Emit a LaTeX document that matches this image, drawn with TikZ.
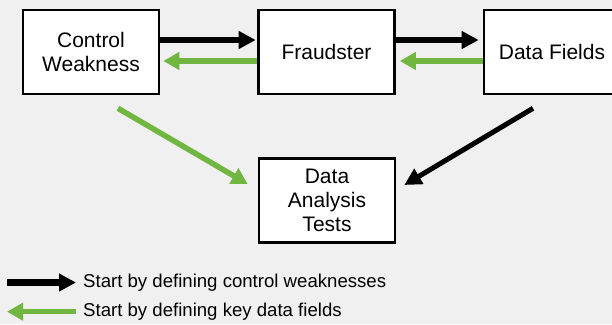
\documentclass[tikz,border=0pt]{standalone}
\usepackage{fontspec}
\setmainfont{Liberation Sans}
\usetikzlibrary{arrows.meta}
\definecolor{bgray}{RGB}{240,240,240}
\definecolor{leafgreen}{RGB}{112,182,64}
\tikzset{
  box/.style={draw=black, fill=white, line width=2.6bp, minimum width=136bp,
    minimum height=84bp, inner sep=0pt, align=center,
    font=\fontsize{21bp}{24bp}\selectfont},
  blackarrow/.style={draw=black, line width=6.5bp,
    -{Triangle[length=17bp,width=17bp]}},
  greenarrow/.style={draw=leafgreen, line width=5.5bp,
    -{Triangle[length=16bp,width=17bp]}},
  legendtext/.style={anchor=west, inner sep=0pt,
    font=\fontsize{18.6bp}{22bp}\selectfont}
}
\begin{document}
\begin{tikzpicture}[x=1bp, y=-1bp]
  % canvas
  \fill[bgray] (0,0) rectangle (612,324);
  \useasboundingbox (0,0) rectangle (612,324);
  \begin{scope}
    \clip (0,0) rectangle (612,324);
    % boxes
    \node[box] (ctrl)  at (91,52)    {Control\\Weakness};
    \node[box] (fraud) at (326.5,52) {Fraudster};
    \node[box] (fields) at (552,52)  {Data Fields};
    \node[box] (tests) at (327,200.5) {Data\\Analysis\\Tests};
  \end{scope}
  % top row: black forward, green backward
  \draw[blackarrow] ([yshift=12bp]ctrl.east) -- ([yshift=12bp,xshift=-1.5bp]fraud.west);
  \draw[greenarrow] ([yshift=-9bp]fraud.west) -- ([yshift=-9bp,xshift=3bp]ctrl.east);
  \draw[blackarrow] ([yshift=12bp]fraud.east) -- ([yshift=12bp,xshift=-4bp]fields.west);
  \draw[greenarrow] ([yshift=-9bp]fields.west) -- ([yshift=-9bp,xshift=4bp]fraud.east);
  % diagonals into the test box
  \draw[greenarrow] ([xshift=27bp,yshift=-13bp]ctrl.south)
    -- ([xshift=-10bp,yshift=16.5bp]tests.west);
  \draw[blackarrow, line width=5bp] ([xshift=-19bp,yshift=-13bp]fields.south)
    -- ([xshift=8bp,yshift=15.5bp]tests.east);
  % legend
  \coordinate (k1a) at (7,282.5);
  \coordinate (k1b) at (76,282.5);
  \coordinate (k2a) at (76,311.7);
  \coordinate (k2b) at (7,311.7);
  \draw[blackarrow] (k1a) -- (k1b);
  \draw[greenarrow] (k2a) -- (k2b);
  \node[legendtext] (l1) at (83,283) {Start by defining control weaknesses};
  \node[legendtext] (l2) at (83,312) {Start by defining key data fields};
\end{tikzpicture}
\end{document}
